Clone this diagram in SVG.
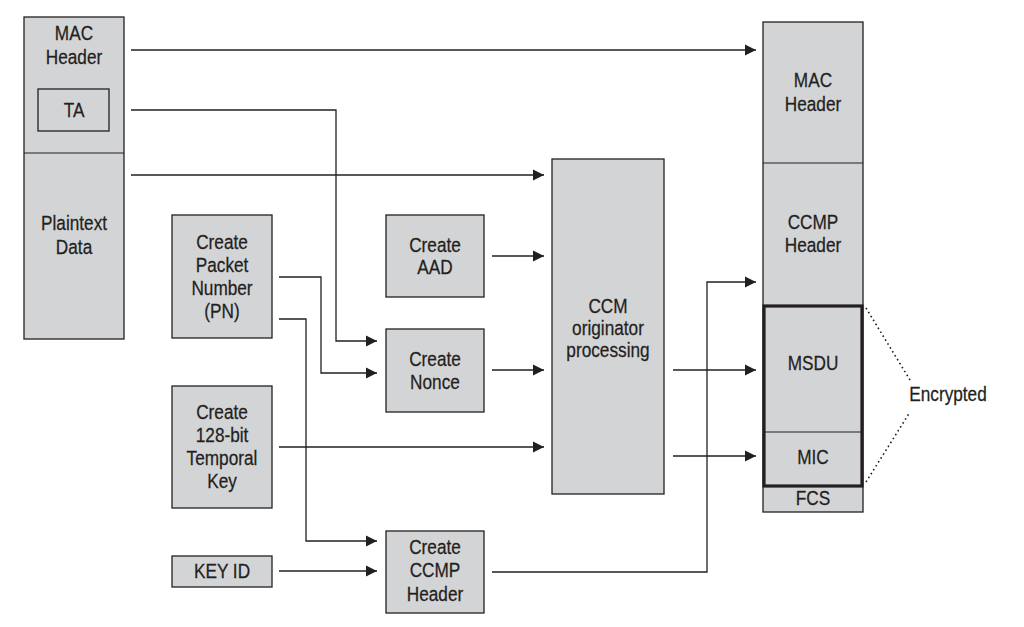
<svg xmlns="http://www.w3.org/2000/svg" width="1024" height="627" viewBox="0 0 1024 627">
  <style>
    .box { fill: #d3d4d6; stroke: #231f20; stroke-width: 1.3; }
    .thick { fill: none; stroke: #231f20; stroke-width: 3.2; }
    .div { stroke: #231f20; stroke-width: 1.2; }
    .lbl { font-family: "Liberation Sans", Arial, sans-serif; font-size: 20.5px; fill: #231f20; stroke: #231f20; stroke-width: 0.25; text-anchor: middle; dominant-baseline: central; transform-box: fill-box; transform-origin: center; transform: scaleX(0.84); }
    .wire { fill: none; stroke: #231f20; stroke-width: 1.3; }
    .dots { fill: none; stroke: #231f20; stroke-width: 1.6; stroke-dasharray: 1.6 3; }
  </style>
  <defs>
    <marker id="arr" markerUnits="userSpaceOnUse" markerWidth="12" markerHeight="14" refX="11" refY="7" orient="auto">
      <path d="M0,1.5 L11,7 L0,12.5 Z" fill="#231f20"/>
    </marker>
  </defs>
  <rect width="1024" height="627" fill="#ffffff"/>

  <!-- source frame: MAC header + plaintext -->
  <g id="src-frame">
    <rect class="box" x="24" y="17" width="100" height="322"/>
    <line class="div" x1="24" y1="153" x2="124" y2="153"/>
    <text class="lbl" x="74" y="33">MAC</text>
    <text class="lbl" x="74" y="57">Header</text>
    <text class="lbl" x="74" y="223">Plaintext</text>
    <text class="lbl" x="74" y="247">Data</text>
  </g>
  <g id="ta">
    <rect class="box" x="38" y="89" width="71" height="42"/>
    <text class="lbl" x="74" y="110">TA</text>
  </g>

  <g id="create-pn">
    <rect class="box" x="172" y="215" width="100" height="123"/>
    <text class="lbl" x="222" y="242">Create</text>
    <text class="lbl" x="222" y="265">Packet</text>
    <text class="lbl" x="222" y="288">Number</text>
    <text class="lbl" x="222" y="311">(PN)</text>
  </g>
  <g id="create-tk">
    <rect class="box" x="172" y="386" width="100" height="122"/>
    <text class="lbl" x="222" y="412">Create</text>
    <text class="lbl" x="222" y="435">128-bit</text>
    <text class="lbl" x="222" y="458">Temporal</text>
    <text class="lbl" x="222" y="481">Key</text>
  </g>
  <g id="key-id">
    <rect class="box" x="172" y="556" width="100" height="31"/>
    <text class="lbl" x="222" y="571">KEY ID</text>
  </g>

  <g id="create-aad">
    <rect class="box" x="386" y="215" width="98" height="82"/>
    <text class="lbl" x="435" y="245">Create</text>
    <text class="lbl" x="435" y="267">AAD</text>
  </g>
  <g id="create-nonce">
    <rect class="box" x="386" y="329" width="98" height="83"/>
    <text class="lbl" x="435" y="359">Create</text>
    <text class="lbl" x="435" y="382">Nonce</text>
  </g>
  <g id="create-ccmp">
    <rect class="box" x="386" y="531" width="98" height="82"/>
    <text class="lbl" x="435" y="547">Create</text>
    <text class="lbl" x="435" y="570">CCMP</text>
    <text class="lbl" x="435" y="594">Header</text>
  </g>

  <g id="ccm">
    <rect class="box" x="552" y="159" width="112" height="335"/>
    <text class="lbl" x="608" y="306">CCM</text>
    <text class="lbl" x="608" y="328">originator</text>
    <text class="lbl" x="608" y="350">processing</text>
  </g>

  <!-- protected frame -->
  <g id="out-frame">
    <rect class="box" x="763" y="22" width="100" height="490"/>
    <line class="div" x1="763" y1="163" x2="863" y2="163"/>
    <line class="div" x1="763" y1="432" x2="863" y2="432"/>
    <rect class="thick" x="764" y="306" width="98" height="180"/>
    <text class="lbl" x="813" y="80">MAC</text>
    <text class="lbl" x="813" y="104">Header</text>
    <text class="lbl" x="813" y="222">CCMP</text>
    <text class="lbl" x="813" y="245">Header</text>
    <text class="lbl" x="813" y="363">MSDU</text>
    <text class="lbl" x="813" y="457">MIC</text>
    <text class="lbl" x="813" y="498">FCS</text>
  </g>

  <g id="encrypted">
    <polyline class="dots" points="866,308 910,380"/>
    <polyline class="dots" points="866,482 910,412"/>
    <text class="lbl" x="948" y="394">Encrypted</text>
  </g>

  <g id="connectors">
    <line class="wire" x1="131" y1="50" x2="756" y2="50" marker-end="url(#arr)"/>
    <polyline class="wire" points="131,110 336,110 336,341 377,341" marker-end="url(#arr)"/>
    <line class="wire" x1="131" y1="175" x2="544" y2="175" marker-end="url(#arr)"/>
    <polyline class="wire" points="279,277 321,277 321,373 377,373" marker-end="url(#arr)"/>
    <polyline class="wire" points="279,319 306,319 306,541 377,541" marker-end="url(#arr)"/>
    <line class="wire" x1="279" y1="447" x2="544" y2="447" marker-end="url(#arr)"/>
    <line class="wire" x1="279" y1="571" x2="377" y2="571" marker-end="url(#arr)"/>
    <line class="wire" x1="492" y1="256" x2="544" y2="256" marker-end="url(#arr)"/>
    <line class="wire" x1="492" y1="370" x2="544" y2="370" marker-end="url(#arr)"/>
    <polyline class="wire" points="492,572 707,572 707,282 756,282" marker-end="url(#arr)"/>
    <line class="wire" x1="673" y1="370" x2="756" y2="370" marker-end="url(#arr)"/>
    <line class="wire" x1="673" y1="456" x2="756" y2="456" marker-end="url(#arr)"/>
  </g>
</svg>
